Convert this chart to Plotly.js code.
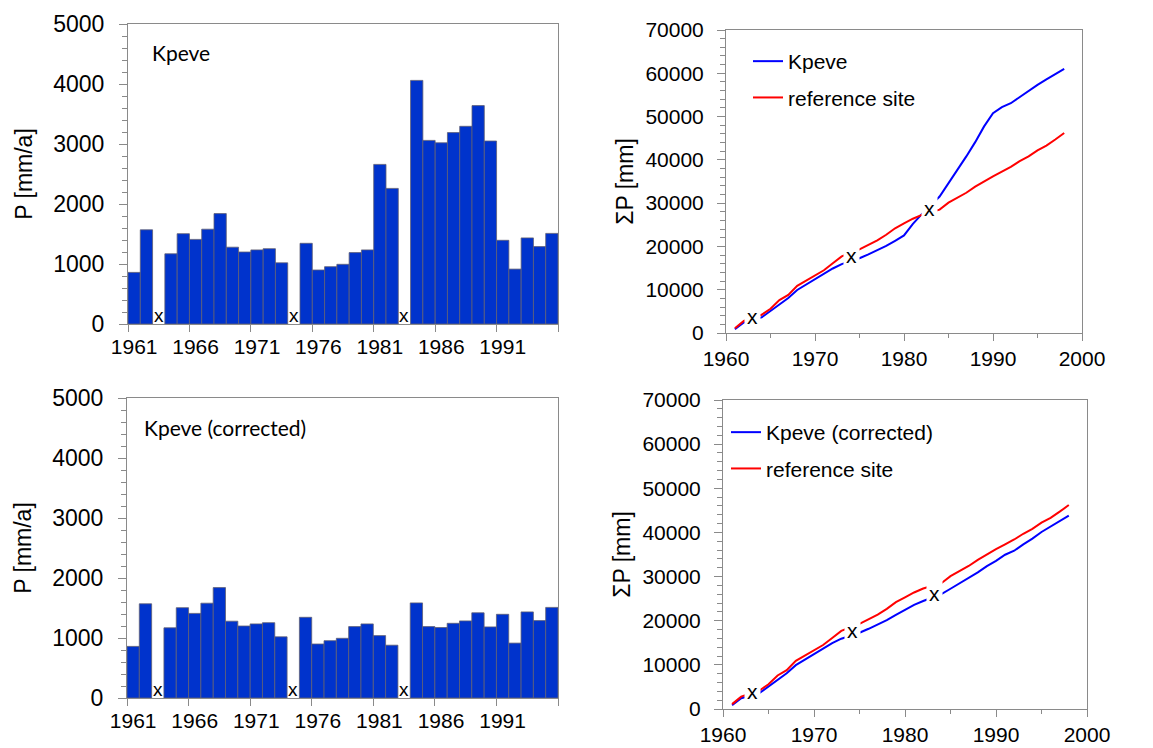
<!DOCTYPE html>
<html><head><meta charset="utf-8">
<script src="https://cdn.plot.ly/plotly-3.0.1.min.js"></script>
<style>html,body{margin:0;padding:0;background:#fff}#chart{width:1153px;height:748px}</style>
</head><body><div id="chart"></div>
<script>
// ---- data ----
const barYears = ['1961','1962','1963','1964','1965','1966','1967','1968','1969','1970',
  '1971','1972','1973','1974','1975','1976','1977','1978','1979','1980',
  '1981','1982','1983','1984','1985','1986','1987','1988','1989','1990',
  '1991','1992','1993','1994','1995'];
const kpeveP = [860,1570,null,1170,1505,1410,1580,1840,1280,1200,
  1235,1255,1020,null,1345,900,955,995,1190,1235,
  2660,2260,null,4060,3060,3020,3190,3295,3640,3050,
  1395,915,1435,1290,1510];
const kpeveCorrP = [860,1570,null,1170,1505,1410,1580,1840,1280,1200,
  1235,1255,1020,null,1345,900,955,995,1190,1235,
  1040,880,null,1585,1190,1175,1245,1285,1420,1185,
  1395,915,1435,1290,1510];
const missingYears = ['1963','1974','1983'];

const cumYears = [1961,1962,1964,1965,1966,1967,1968,1969,1970,1971,1972,1973,
  1975,1976,1977,1978,1979,1980,1981,1982,
  1984,1985,1986,1987,1988,1989,1990,1991,1992,1993,1994,1995,1996,1997,1998];
const kpeveCum = [860,2430,3600,5105,6515,8095,9935,11215,12415,13650,14905,15925,
  17270,18170,19125,20120,21310,22545,25205,27465,
  31525,34585,37605,40795,44090,47730,50780,52175,53090,54525,55815,57325,58580,59800,61000];
const kpeveCorrCum = [860,2430,3600,5105,6515,8095,9935,11215,12415,13650,14905,15925,
  17270,18170,19125,20120,21310,22545,23585,24465,
  26050,27240,28415,29660,30945,32365,33550,34945,35860,37295,38585,40095,41350,42570,43800];
const refCum = [1100,2800,4200,5600,7600,8800,10900,12100,13300,14500,16100,17700,
  19300,20400,21400,22700,24200,25300,26400,27300,
  28500,30100,31200,32400,33800,35100,36200,37300,38400,39700,40800,42200,43300,44700,46200];
// gap markers on the cumulative plots [year, value]
const gapTop = [[1963,3850],[1974.1,17850],[1982.9,28850]];
const gapBottom = [[1963.2,4000],[1974.2,17730],[1983.2,26250]];

// ---- styling ----
const W = 1153, H = 748;
const px = v => v / W, py = v => 1 - v / H;
const AX = '#8a8a8a';
const FONT = 'Liberation Sans, Arial, sans-serif';
const BAR = 'rgb(0,51,204)';

const barTrace = (y, xa, ya) => ({
  type: 'bar', x: barYears, y: y, xaxis: xa, yaxis: ya,
  marker: {color: BAR, line: {color: 'rgb(95,95,115)', width: 0.8}},
  showlegend: false, hoverinfo: 'x+y'
});
const lineTrace = (y, xa, ya, name, color, lg, grp) => ({
  type: 'scatter', mode: 'lines', x: cumYears, y: y, xaxis: xa, yaxis: ya,
  name: name, line: {color: color, width: 2}, legend: lg, legendgroup: grp
});

const data = [
  barTrace(kpeveP, 'x', 'y'),
  barTrace(kpeveCorrP, 'x2', 'y2'),
  lineTrace(kpeveCum, 'x3', 'y3', 'Kpeve', 'rgb(0,0,255)', 'legend', 'a'),
  lineTrace(refCum, 'x3', 'y3', 'reference site', 'rgb(255,0,0)', 'legend', 'b'),
  lineTrace(kpeveCorrCum, 'x4', 'y4', 'Kpeve (corrected)', 'rgb(0,0,255)', 'legend2', 'c'),
  lineTrace(refCum, 'x4', 'y4', 'reference site', 'rgb(255,0,0)', 'legend2', 'd')
];

const catX = (dom, anchor) => ({
  domain: dom, anchor: anchor, type: 'category', range: [-0.5, barYears.length - 0.5],
  tickson: 'boundaries', tick0: 0, dtick: 5, ticks: 'outside', ticklen: 7, tickcolor: AX,
  tickangle: 0,
  showline: true, linecolor: AX, linewidth: 1, mirror: true, showgrid: false, zeroline: false,
  tickfont: {family: FONT, size: 21, color: '#000'}, ticklabelstandoff: 4, fixedrange: true
});
const barY = (dom, anchor) => ({
  domain: dom, anchor: anchor, range: [0, 5000], dtick: 1000, ticks: 'outside', ticklen: 8, tickcolor: AX,
  minor: {dtick: 200, ticks: 'outside', ticklen: 5, tickcolor: AX, showgrid: false},
  showline: true, linecolor: AX, linewidth: 1, mirror: true, showgrid: false, zeroline: false,
  tickformat: 'd',
  tickfont: {family: FONT, size: 23, color: '#000'}, ticklabelstandoff: 10,
  title: {text: 'P [mm/a]', font: {family: FONT, size: 23, color: '#000'}, standoff: 14}
});
const numX = (dom, anchor, so) => ({
  domain: dom, anchor: anchor, range: [1960, 2000], dtick: 10, tick0: 1960, ticks: 'outside', ticklen: 7, tickcolor: AX,
  minor: {dtick: 5, ticks: 'outside', ticklen: 4, tickcolor: AX, showgrid: false},
  showline: true, linecolor: AX, linewidth: 1, mirror: true, showgrid: false, zeroline: false,
  tickangle: 0, tickformat: 'd',
  tickfont: {family: FONT, size: 21, color: '#000'}, ticklabelstandoff: so
});
const cumY = (dom, anchor) => ({
  domain: dom, anchor: anchor, range: [0, 70000], dtick: 10000, ticks: 'outside', ticklen: 8, tickcolor: AX,
  minor: {dtick: 2000, ticks: 'outside', ticklen: 5, tickcolor: AX, showgrid: false},
  showline: true, linecolor: AX, linewidth: 1, mirror: true, showgrid: false, zeroline: false,
  tickformat: 'd', separatethousands: false,
  tickfont: {family: FONT, size: 21, color: '#000'}, ticklabelstandoff: 9,
  title: {text: 'ΣP [mm]', font: {family: FONT, size: 23, color: '#000'}, standoff: 5}
});

const annotations = [];
missingYears.forEach(yr => {
  const idx = barYears.indexOf(yr);
  ['x', 'x2'].forEach((xa, i) => annotations.push({
    xref: xa, yref: i ? 'y2' : 'y', x: idx, y: 0, yanchor: 'bottom', yshift: -4,
    text: 'x', showarrow: false, font: {family: FONT, size: 19, color: '#000'}
  }));
});
gapTop.forEach(p => annotations.push({
  xref: 'x3', yref: 'y3', x: p[0], y: p[1], text: 'x', showarrow: false,
  bgcolor: '#fff', borderpad: 2, font: {family: FONT, size: 21, color: '#000'}
}));
gapBottom.forEach(p => annotations.push({
  xref: 'x4', yref: 'y4', x: p[0], y: p[1], text: 'x', showarrow: false,
  bgcolor: '#fff', borderpad: 2, font: {family: FONT, size: 21, color: '#000'}
}));
annotations.push({xref: 'paper', yref: 'paper', x: px(150), y: py(53), xanchor: 'left', yanchor: 'middle',
  text: 'Kpeve', showarrow: false, font: {family: 'Lato, Open Sans, sans-serif', size: 21, color: '#000'}});
annotations.push({xref: 'paper', yref: 'paper', x: px(142), y: py(428), xanchor: 'left', yanchor: 'middle',
  text: 'Kpeve (corrected)', showarrow: false, font: {family: 'Lato, Open Sans, sans-serif', size: 21, color: '#000'}});

const legendStyle = (x, y) => ({
  x: x, y: y, xanchor: 'left', yanchor: 'top', bgcolor: 'rgba(0,0,0,0)', borderwidth: 0,
  font: {family: FONT, size: 21, color: '#000'}, traceorder: 'grouped', tracegroupgap: 6
});

const layout = {
  width: W, height: H, margin: {l: 0, r: 0, t: 0, b: 0},
  paper_bgcolor: '#fff', plot_bgcolor: '#fff', showlegend: true, bargap: 0,
  xaxis: catX([px(128), px(558)], 'y'),
  yaxis: barY([py(324), py(24)], 'x'),
  xaxis2: catX([px(127), px(558)], 'y2'),
  yaxis2: barY([py(698), py(398)], 'x2'),
  xaxis3: numX([px(726), px(1082)], 'y3', 0),
  yaxis3: cumY([py(333), py(30)], 'x3'),
  xaxis4: numX([px(723), px(1087)], 'y4', 0),
  yaxis4: cumY([py(709), py(400)], 'x4'),
  legend: legendStyle(px(748), py(41)),
  legend2: legendStyle(px(726), py(412)),
  annotations: annotations
};

Plotly.newPlot('chart', data, layout, {displayModeBar: false, staticPlot: true});
</script></body></html>
